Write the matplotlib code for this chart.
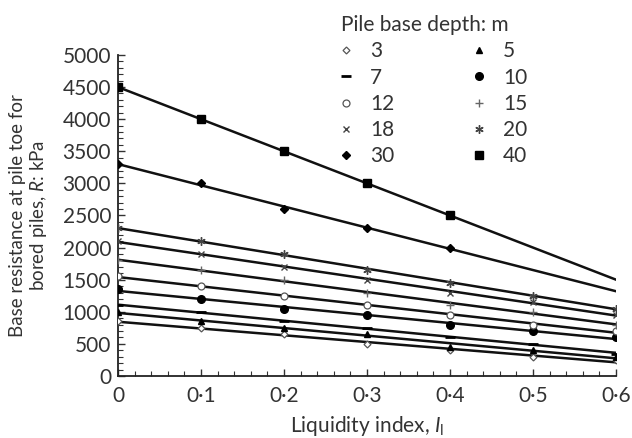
import numpy as np
import matplotlib
matplotlib.use('Agg')
import matplotlib.pyplot as plt
from matplotlib.ticker import MultipleLocator, FuncFormatter

plt.rcParams['font.family'] = ['Lato', 'DejaVu Sans']
plt.rcParams['mathtext.fontset'] = 'custom'
plt.rcParams['mathtext.it'] = 'Lato:italic'
plt.rcParams['mathtext.rm'] = 'Lato'

# liquidity index values
li = [0, 0.1, 0.2, 0.3, 0.4, 0.5, 0.6]
li_short = [0, 0.1, 0.2, 0.3, 0.4]

# base resistance (kPa) for each pile base depth (m)
r3 = [850, 750, 650, 500, 400, 300, 250]
r5 = [1000, 850, 750, 650, 450, 400, 300]
r7 = [1100, 1000, 850, 750, 600, 500, 350]
r10 = [1350, 1200, 1050, 950, 800, 700, 600]
r12 = [1550, 1400, 1250, 1100, 950, 800, 700]
r15 = [1800, 1650, 1500, 1300, 1100, 1000, 800]
r18 = [2100, 1900, 1700, 1500, 1300, 1150, 950]
r20 = [2300, 2100, 1900, 1650, 1450, 1250, 1050]
r30 = [3300, 3000, 2600, 2300, 2000]
r40 = [4500, 4000, 3500, 3000, 2500]

txt = '#333333'
fs = 15
series = [
    ('3', li, r3, dict(marker='D', ms=3.5, mfc='white', mec='#555555', mew=0.9)),
    ('5', li, r5, dict(marker='^', ms=5, mfc='black', mec='black')),
    ('7', li, r7, dict(marker='_', ms=7, mec='black', mew=2)),
    ('10', li, r10, dict(marker='o', ms=5.5, mfc='black', mec='black')),
    ('12', li, r12, dict(marker='o', ms=5, mfc='white', mec='#555555', mew=0.9)),
    ('15', li, r15, dict(marker='+', ms=6, mec='#666666', mew=1)),
    ('18', li, r18, dict(marker='x', ms=5, mec='#444444', mew=1)),
    ('20', li, r20, dict(marker=(6, 2, 0), ms=6, mec='#444444', mew=1)),
    ('30', li_short, r30, dict(marker='D', ms=4, mfc='black', mec='black')),
    ('40', li_short, r40, dict(marker='s', ms=5.5, mfc='black', mec='black')),
]

fig = plt.figure(figsize=(6.32, 4.38), dpi=100)
ax = fig.add_axes([0.1867, 0.1416, 0.788, 0.7329])

handles = {}
xx = np.array([0, 0.6])
for name, x, y, st in series:
    k, b = np.polyfit(x, y, 1)
    ax.plot(xx, k * xx + b, color='#111111', lw=1.8, zorder=2)
    h, = ax.plot(x, y, ls='none', zorder=3, **st)
    handles[name] = h

ax.set_xlim(0, 0.6)
ax.set_ylim(0, 5000)
ax.xaxis.set_major_locator(MultipleLocator(0.1))
ax.xaxis.set_minor_locator(MultipleLocator(0.02))
ax.yaxis.set_major_locator(MultipleLocator(500))
ax.yaxis.set_minor_locator(MultipleLocator(100))
ax.xaxis.set_major_formatter(FuncFormatter(
    lambda v, p: '0' if abs(v) < 1e-9 else ('%.1f' % v).replace('.', '\u00b7')))
ax.tick_params(which='both', direction='in', colors=txt, labelsize=fs)
ax.tick_params(which='major', length=5, width=1)
ax.tick_params(which='minor', length=3.5, width=0.8)
ax.tick_params(axis='x', pad=7)
ax.tick_params(axis='y', pad=5)
for s in ['top', 'right']:
    ax.spines[s].set_visible(False)
for s in ['left', 'bottom']:
    ax.spines[s].set_linewidth(1.3)
    ax.spines[s].set_color('#222222')

ax.set_xlabel('Liquidity index, $I_\\mathrm{l}$', fontsize=fs, color=txt, labelpad=6)
ax.set_ylabel('Base resistance at pile toe for\nbored piles, $R$: kPa', fontsize=13.5,
              color=txt, linespacing=1.1, labelpad=10)

order = ['3', '7', '12', '18', '30', '5', '10', '15', '20', '40']
leg = fig.legend([handles[n] for n in order], order, ncol=2, frameon=False,
                 loc='upper left', bbox_to_anchor=(338 / 632, 1 - 12 / 438),
                 title='Pile base depth: m', title_fontsize=fs, fontsize=fs,
                 alignment='left', borderpad=0.15, borderaxespad=0,
                 handlelength=0.5, handletextpad=0.9, columnspacing=3.8,
                 labelspacing=0.3)
for t in leg.get_texts():
    t.set_color(txt)
leg.get_title().set_color(txt)

fig.savefig('out.png', dpi=100)
